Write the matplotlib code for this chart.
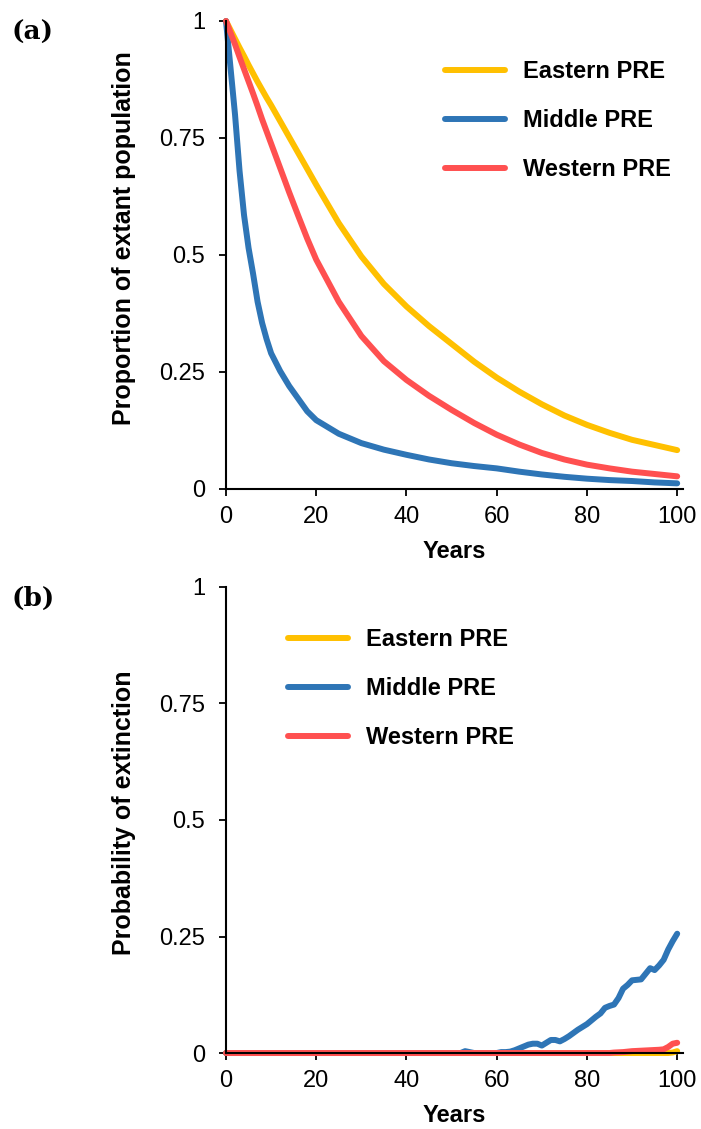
import matplotlib.pyplot as plt

# Survival curves: proportion of extant population
years_a = [0, 1, 2, 3, 4, 5, 6, 7, 8, 9, 10, 12, 14, 16, 18, 20, 25, 30, 35, 40,
           45, 50, 55, 60, 65, 70, 75, 80, 85, 90, 95, 100]
eastern_a = [1.0, 0.981, 0.962, 0.943, 0.925, 0.906, 0.888, 0.87, 0.853, 0.836, 0.82,
             0.786, 0.752, 0.718, 0.684, 0.65, 0.568, 0.497, 0.438, 0.39,
             0.348, 0.31, 0.272, 0.238, 0.208, 0.181, 0.157, 0.137, 0.12, 0.105, 0.094, 0.083]
middle_a = [1.0, 0.90, 0.80, 0.68, 0.585, 0.515, 0.46, 0.40, 0.355, 0.32, 0.29,
            0.252, 0.22, 0.193, 0.166, 0.147, 0.118, 0.098, 0.084, 0.073,
            0.063, 0.055, 0.049, 0.044, 0.037, 0.031, 0.026, 0.022, 0.019, 0.017, 0.014, 0.012]
western_a = [1.0, 0.975, 0.95, 0.923, 0.897, 0.871, 0.845, 0.818, 0.79, 0.764, 0.738,
             0.686, 0.634, 0.584, 0.535, 0.49, 0.40, 0.327, 0.273, 0.233,
             0.199, 0.169, 0.141, 0.116, 0.095, 0.077, 0.063, 0.052, 0.044, 0.037, 0.032, 0.027]

# Probability of extinction
years_b = [0, 52, 53, 54, 55, 60, 61, 62, 63, 64, 65, 66, 67, 68, 69, 70, 71, 72, 73,
           74, 75, 76, 77, 78, 79, 80, 81, 82, 83, 84, 85, 86, 87, 88, 89, 90, 91,
           92, 93, 94, 95, 96, 97, 98, 99, 100]
middle_b = [0, 0, 0.004, 0.002, 0, 0, 0.002, 0.002, 0.003, 0.006, 0.01, 0.014, 0.018,
            0.02, 0.02, 0.016, 0.022, 0.028, 0.028, 0.025, 0.03, 0.036, 0.043, 0.05,
            0.056, 0.062, 0.07, 0.078, 0.085, 0.097, 0.101, 0.104, 0.118, 0.138, 0.146,
            0.156, 0.157, 0.158, 0.17, 0.182, 0.178, 0.188, 0.2, 0.222, 0.24, 0.256]
years_bw = [0, 85, 86, 88, 90, 92, 94, 96, 97, 98, 99, 100]
western_b = [0, 0, 0.001, 0.002, 0.004, 0.005, 0.006, 0.007, 0.008, 0.013, 0.02, 0.022]
years_be = [0, 98, 99, 100]
eastern_b = [0, 0, 0.001, 0.004]

labels = ['Eastern PRE', 'Middle PRE', 'Western PRE']
colors = ['#FFC000', '#2E75B6', '#FF5050']

yticks = [0, 0.25, 0.5, 0.75, 1]
ytick_labels = ['0', '0.25', '0.5', '0.75', '1']
xticks = [0, 20, 40, 60, 80, 100]

plt.rcParams['font.family'] = ['Liberation Sans', 'DejaVu Sans']

fig = plt.figure(figsize=(7.01, 11.29), dpi=100)
ax_a = fig.add_axes([0.3224, 0.5669, 0.652, 0.4145])
ax_b = fig.add_axes([0.3224, 0.0673, 0.652, 0.4128])

line_kw = dict(linewidth=4.3, solid_capstyle='round', solid_joinstyle='round', clip_on=False)


def style_axes(ax, ylabel, label_y, legend_anchor):
    ax.set_xlim(0, 101.3)
    ax.set_ylim(0, 1)
    ax.set_xticks(xticks)
    ax.set_yticks(yticks)
    ax.set_yticklabels(ytick_labels)
    for side in ['top', 'right']:
        ax.spines[side].set_visible(False)
    for side in ['left', 'bottom']:
        ax.spines[side].set_linewidth(1.5)
    ax.tick_params(direction='out', length=5, width=1.3, labelsize=17)
    ax.tick_params(axis='y', pad=10)
    ax.tick_params(axis='x', pad=7)
    ax.set_xlabel('Years', fontsize=17, fontweight='bold', labelpad=9)
    ax.set_ylabel(ylabel, fontsize=18, fontweight='bold')
    ax.yaxis.set_label_coords(-0.197, label_y)
    ax.legend(loc='upper left', frameon=False,
              prop={'weight': 'bold', 'size': 17},
              handlelength=2.55, handletextpad=0.75, labelspacing=1.11,
              borderpad=0, borderaxespad=0,
              bbox_to_anchor=legend_anchor, bbox_transform=ax.transAxes)


# (a) extant population
for y, lab, c in zip([eastern_a, middle_a, western_a], labels, colors):
    ax_a.plot(years_a, y, color=c, label=lab, **line_kw)
style_axes(ax_a, 'Proportion of extant population', 0.536, (0.479, 0.917))

# (b) extinction probability
for x, y, lab, c in zip([years_be, years_b, years_bw], [eastern_b, middle_b, western_b],
                        labels, colors):
    ax_b.plot(x, y, color=c, label=lab, **line_kw)
style_axes(ax_b, 'Probability of extinction', 0.515, (0.136, 0.912))

fig.text(0.017, 0.9717, '(a)', fontsize=19, fontweight='bold', family='DejaVu Serif', va='center')
fig.text(0.017, 0.4703, '(b)', fontsize=19, fontweight='bold', family='DejaVu Serif', va='center')

fig.savefig('out.png', dpi=100, facecolor='white')
